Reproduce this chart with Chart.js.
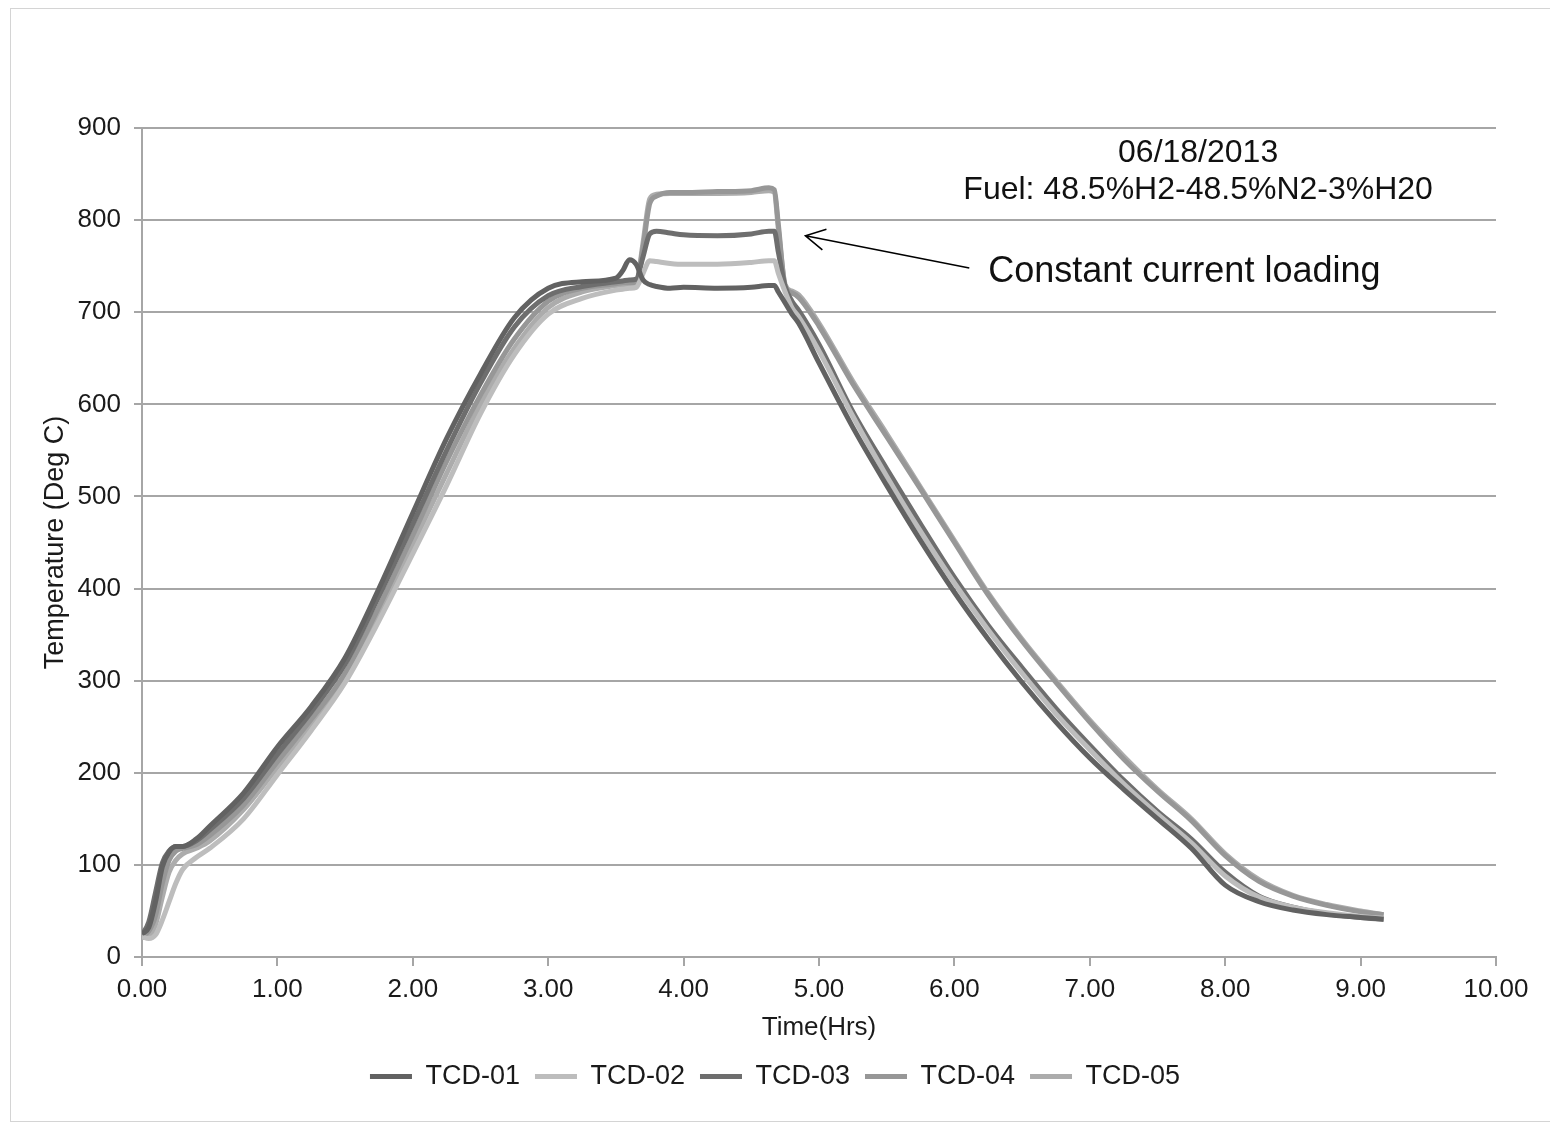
<!DOCTYPE html>
<html>
<head>
<meta charset="utf-8">
<script src="https://cdn.jsdelivr.net/npm/chart.js@4.4.1/dist/chart.umd.min.js"></script>
<style>
  html, body { margin: 0; padding: 0; background: #fff; overflow: hidden; }
  #wrap { position: relative; width: 1550px; height: 1126px; }
  #frame { position: absolute; left: 10px; top: 8px; width: 1560px; height: 1112px; border: 1px solid #d4d4d4; }
  #chart { position: absolute; left: 0; top: 0; }
</style>
</head>
<body>
<div id="wrap">
  <div id="frame"></div>
  <canvas id="chart" width="1550" height="1126"></canvas>
</div>
<script>
const FONT = '"Liberation Sans", Arial, sans-serif';

// time axis (hours) shared by all thermocouples
const hours = [0, 0.05, 0.1, 0.15, 0.2, 0.25, 0.3, 0.4, 0.5, 0.75,
  1.0, 1.25, 1.5, 1.75, 2.0, 2.25, 2.5, 2.75, 3.0, 3.25,
  3.5, 3.55, 3.6, 3.65, 3.7, 3.75, 3.8, 3.9, 4.0, 4.25,
  4.5, 4.63, 4.67, 4.7, 4.75, 4.8, 4.85, 5.0, 5.25, 5.5,
  5.75, 6.0, 6.25, 6.5, 6.75, 7.0, 7.25, 7.5, 7.75, 8.0,
  8.25, 8.5, 8.75, 9.0, 9.17];

const tcd01 = [25, 32, 60, 98, 114, 120, 120, 128, 142, 178,
  228, 272, 325, 400, 482, 563, 633, 694, 726, 733,
  737, 745, 757, 752, 735, 730, 728, 726, 727, 726,
  727, 729, 729, 722, 710, 698, 688, 645, 575, 512,
  452, 396, 345, 298, 255, 216, 182, 150, 118, 78,
  60, 51, 46, 43, 41];
const tcd02 = [22, 20, 24, 40, 60, 80, 95, 108, 118, 150,
  198, 246, 298, 365, 438, 512, 590, 654, 698, 715,
  724, 725, 726, 727, 742, 756, 755, 753, 752, 752,
  754, 756, 756, 742, 722, 705, 695, 658, 587, 522,
  462, 406, 355, 308, 264, 225, 188, 155, 124, 88,
  65, 54, 48, 44, 42];
const tcd03 = [24, 38, 70, 102, 115, 120, 120, 126, 138, 172,
  220, 266, 318, 392, 470, 550, 623, 684, 718, 728,
  733, 734, 735, 736, 760, 785, 788, 786, 784, 783,
  785, 788, 788, 765, 728, 712, 702, 665, 592, 530,
  470, 412, 360, 314, 270, 230, 192, 158, 128, 92,
  66, 54, 47, 43, 41];
const tcd04 = [23, 28, 45, 80, 105, 115, 118, 122, 132, 165,
  212, 258, 308, 380, 458, 538, 610, 671, 712, 726,
  731, 732, 732, 733, 770, 818, 826, 830, 830, 831,
  832, 835, 833, 795, 728, 721, 716, 685, 622, 565,
  508, 450, 393, 343, 298, 255, 215, 180, 148, 110,
  82, 66, 56, 49, 46];
const tcd05 = [21, 22, 35, 65, 92, 105, 112, 118, 126, 160,
  206, 253, 302, 372, 448, 525, 600, 661, 705, 722,
  729, 730, 730, 731, 775, 823, 828, 829, 829, 829,
  830, 832, 830, 790, 730, 723, 719, 688, 625, 568,
  510, 452, 395, 345, 300, 257, 218, 182, 150, 112,
  84, 67, 57, 50, 46];

const seriesNames = ['TCD-01', 'TCD-02', 'TCD-03', 'TCD-04', 'TCD-05'];
const seriesColors = ['#626262', '#bdbdbd', '#6e6e6e', '#979797', '#acacac'];

const noteDate = '06/18/2013';
const noteFuel = 'Fuel: 48.5%H2-48.5%N2-3%H20';
const noteLoad = 'Constant current loading';
const arrowFrom = [6.11, 748];   // hours, deg C
const arrowTo = [4.90, 783];

const toPoints = vals => hours.map((h, i) => ({ x: h, y: vals[i] }));
const allSeries = [tcd01, tcd02, tcd03, tcd04, tcd05];

// text notes + arrow on the plot
const notes = {
  id: 'notes',
  afterDatasetsDraw(chart) {
    const { ctx, scales: { x, y } } = chart;
    ctx.save();
    ctx.fillStyle = '#111';
    ctx.textBaseline = 'middle';
    ctx.textAlign = 'center';
    ctx.font = '32px ' + FONT;
    ctx.fillText(noteDate, x.getPixelForValue(7.8), y.getPixelForValue(873));
    ctx.fillText(noteFuel, x.getPixelForValue(7.8), y.getPixelForValue(833));
    ctx.textAlign = 'left';
    ctx.font = '36px ' + FONT;
    ctx.fillText(noteLoad, x.getPixelForValue(6.25), y.getPixelForValue(744));

    const x0 = x.getPixelForValue(arrowFrom[0]), y0 = y.getPixelForValue(arrowFrom[1]);
    const x1 = x.getPixelForValue(arrowTo[0]), y1 = y.getPixelForValue(arrowTo[1]);
    const ang = Math.atan2(y0 - y1, x0 - x1);
    ctx.strokeStyle = '#000';
    ctx.lineWidth = 1.6;
    ctx.beginPath();
    ctx.moveTo(x0, y0);
    ctx.lineTo(x1, y1);
    ctx.moveTo(x1 + 22 * Math.cos(ang - 0.5), y1 + 22 * Math.sin(ang - 0.5));
    ctx.lineTo(x1, y1);
    ctx.lineTo(x1 + 22 * Math.cos(ang + 0.5), y1 + 22 * Math.sin(ang + 0.5));
    ctx.stroke();
    ctx.restore();
  }
};

new Chart(document.getElementById('chart').getContext('2d'), {
  type: 'line',
  data: {
    datasets: seriesNames.map((name, i) => ({
      label: name,
      data: toPoints(allSeries[i]),
      borderColor: seriesColors[i],
      backgroundColor: seriesColors[i],
      borderWidth: 5,
      pointRadius: 0,
      fill: false,
      cubicInterpolationMode: 'monotone'
    }))
  },
  options: {
    responsive: false,
    animation: false,
    devicePixelRatio: 1,
    layout: { padding: { left: 54, right: 54, top: 128, bottom: 26 } },
    scales: {
      x: {
        type: 'linear', min: 0, max: 10,
        afterFit: s => { s.height = 91; },
        ticks: {
          stepSize: 1, padding: 8, color: '#1a1a1a', maxRotation: 0, autoSkip: false,
          font: { size: 26, family: FONT },
          callback: v => v.toFixed(2)
        },
        grid: { drawOnChartArea: false, tickLength: 9, color: '#a6a6a6', lineWidth: 2 },
        border: { color: '#a6a6a6', width: 2 },
        title: { display: true, text: 'Time(Hrs)', color: '#1a1a1a',
                 font: { size: 26, family: FONT }, padding: { top: 0, bottom: 5 } }
      },
      y: {
        min: 0, max: 900,
        afterFit: s => { s.width = 88; },
        ticks: { stepSize: 100, padding: 13, color: '#1a1a1a', font: { size: 26, family: FONT } },
        grid: { color: '#a6a6a6', lineWidth: 2, tickLength: 8 },
        border: { color: '#a6a6a6', width: 2 },
        title: { display: true, text: 'Temperature (Deg C)', color: '#1a1a1a',
                 font: { size: 27, family: FONT }, padding: { top: -15, bottom: 0 } }
      }
    },
    plugins: {
      legend: {
        position: 'bottom',
        labels: {
          usePointStyle: true, pointStyle: 'line', pointStyleWidth: 42,
          padding: 15, color: '#1a1a1a', font: { size: 27, family: FONT }
        }
      },
      tooltip: { enabled: false }
    }
  },
  plugins: [notes]
});
</script>
</body>
</html>
